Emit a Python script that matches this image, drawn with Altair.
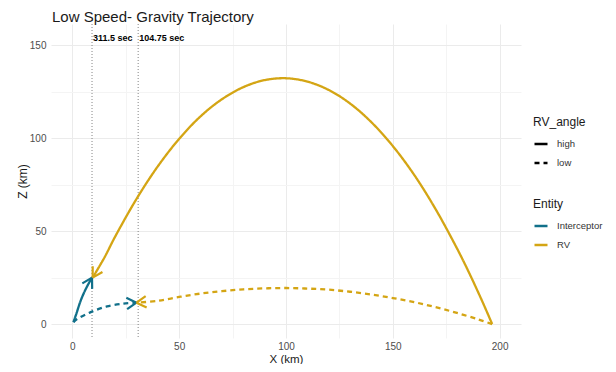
import math
import altair as alt
import pandas as pd

# ---- data ----
rv_high_x = [196.5, 193, 190, 185, 180, 170, 160, 150, 140, 130, 120, 110, 100,
             90, 80, 70, 60, 50, 40, 30, 20, 15, 9.5]
rv_high_z = [0, 9.3, 17.0, 29.3, 40.8, 61.9, 80.3, 95.8, 108.6, 118.7, 126.0, 130.5, 132.3,
             131.3, 127.5, 121.0, 111.8, 99.7, 84.9, 67.3, 47.0, 35.8, 25.0]

rv_low_x = [196.5, 190, 180, 170, 160, 150, 140, 130, 120, 110, 100,
            90, 80, 70, 60, 50, 40, 30]
rv_low_z = [0, 2.5, 6.0, 9.1, 11.8, 14.0, 15.9, 17.4, 18.5, 19.1, 19.4,
            19.2, 18.7, 17.7, 16.4, 14.6, 12.5, 11.5]

int_high_x = [0.5, 2.0, 3.7, 5.3, 7.0, 9.2]
int_high_z = [1.0, 6.0, 12.0, 16.5, 20.5, 25.0]

int_low_x = [0.5, 2.2, 8.4, 16.2, 24.0, 30.0]
int_low_z = [1.0, 2.7, 6.3, 9.5, 11.0, 11.5]

vline_x = [9.2, 30.8]
vline_label = ["311.5 sec", "104.75 sec"]
vline_label_z = [154, 154]

entities = ["Interceptor", "RV"]
entity_colors = ["#11708a", "#D4A514"]
angles = ["high", "low"]
title_text = "Low Speed- Gravity Trajectory"

# ---- layout ----
W, H = 470, 314
XD = [-10, 210]
YD = [-7.5, 161.5]
sx = W / (XD[1] - XD[0])
sy = H / (YD[1] - YD[0])
FONT = "Liberation Sans"

rows = []
def add(entity, angle, xs, zs):
    for i, (x, z) in enumerate(zip(xs, zs)):
        rows.append(dict(Entity=entity, RV_angle=angle, x=x, z=z, i=i))

add("RV", "high", rv_high_x, rv_high_z)
add("RV", "low", rv_low_x, rv_low_z)
add("Interceptor", "high", int_high_x, int_high_z)
add("Interceptor", "low", int_low_x, int_low_z)
df = pd.DataFrame(rows)

heads = []
for (ent, ang), g in df.groupby(["Entity", "RV_angle"]):
    g = g.sort_values("i")
    x1, z1 = g.iloc[-2]["x"], g.iloc[-2]["z"]
    x2, z2 = g.iloc[-1]["x"], g.iloc[-1]["z"]
    a = math.degrees(math.atan2(-(z2 - z1) * sy, (x2 - x1) * sx)) % 360
    heads.append(dict(Entity=ent, RV_angle=ang, x=x2, z=z2, ang=a))
heads = pd.DataFrame(heads)

vdf = pd.DataFrame({"x": vline_x, "label": vline_label, "z": vline_label_z})
tdf = pd.DataFrame({"t": [title_text]})

grid_color = {"condition": {"test": "datum.value % 50 === 0", "value": "#ebebeb"},
              "value": "#f4f4f4"}

xscale = alt.Scale(domain=XD, nice=False, zero=False)
yscale = alt.Scale(domain=YD, nice=False, zero=False)

X = alt.X("x:Q", scale=xscale,
          axis=alt.Axis(values=list(range(0, 201, 25)),
                        labelExpr="datum.value % 50 === 0 ? datum.label : ''",
                        title="X (km)", gridColor=grid_color, labelPadding=3,
                        titlePadding=2, titleFontSize=11.5))
Y = alt.Y("z:Q", scale=yscale,
          axis=alt.Axis(values=list(range(0, 151, 25)),
                        labelExpr="datum.value % 50 === 0 ? datum.label : ''",
                        title="Z (km)", gridColor=grid_color, labelPadding=5,
                        titlePadding=0))

color_scale = alt.Scale(domain=entities, range=entity_colors)
dash_scale = alt.Scale(domain=angles, range=[[1, 0], [5, 4]])

lines = alt.Chart(df).mark_line(strokeWidth=2.3, interpolate="catmull-rom").encode(
    x=X, y=Y,
    color=alt.Color("Entity:N", scale=color_scale,
                    legend=alt.Legend(orient="none", legendX=482, legendY=175,
                                      title="Entity", symbolType="stroke",
                                      symbolStrokeWidth=2.5, symbolSize=169)),
    strokeDash=alt.StrokeDash("RV_angle:N", scale=dash_scale,
                              legend=alt.Legend(orient="none", legendX=482, legendY=93,
                                                title="RV_angle", symbolType="stroke",
                                                symbolStrokeColor="black",
                                                symbolStrokeWidth=2.5, symbolSize=169)),
    order=alt.Order("i:Q"),
)

arrows = alt.Chart(heads).mark_point(
    shape="M0,0L-1,-0.58M0,0L-1,0.58", filled=False, strokeWidth=2.2, size=380,
    opacity=1,
).encode(
    x=alt.X("x:Q", scale=xscale),
    y=alt.Y("z:Q", scale=yscale),
    color=alt.Color("Entity:N", scale=color_scale, legend=None),
    angle=alt.Angle("ang:Q", scale=None),
)

rules = alt.Chart(vdf).mark_rule(strokeDash=[1, 2], color="#777", strokeWidth=0.9).encode(
    x=alt.X("x:Q", scale=xscale)
)

texts = alt.Chart(vdf).mark_text(align="left", baseline="middle", dx=1, fontWeight="bold",
                                 fontSize=9, font=FONT, color="black").encode(
    x=alt.X("x:Q", scale=xscale),
    y=alt.Y("z:Q", scale=yscale),
    text="label:N",
)

title = alt.Chart(tdf).mark_text(align="left", baseline="alphabetic", fontSize=15,
                                 font=FONT, color="#1a1a1a").encode(
    x=alt.value(1), y=alt.value(-2), text="t:N",
)

chart = alt.layer(rules, lines, arrows, texts, title).properties(
    width=W, height=H,
    autosize=alt.AutoSizeParams(type="none"),
    padding={"left": 43, "top": 16, "right": 85, "bottom": 26},
).configure_view(stroke=None).configure_axis(
    domain=False, ticks=False, labelColor="#4d4d4d", labelFontSize=10, labelFont=FONT,
    titleFont=FONT, titleFontSize=12, titleFontWeight="normal", titleColor="#1a1a1a",
).configure_legend(
    titleFont=FONT, titleFontSize=12, titleFontWeight="normal", titleColor="#1a1a1a",
    labelFont=FONT, labelFontSize=9.5, labelColor="#333333", rowPadding=6,
    titlePadding=7, labelOffset=8,
)

chart.save("out.html", embed_options={"renderer": "svg", "actions": False})
